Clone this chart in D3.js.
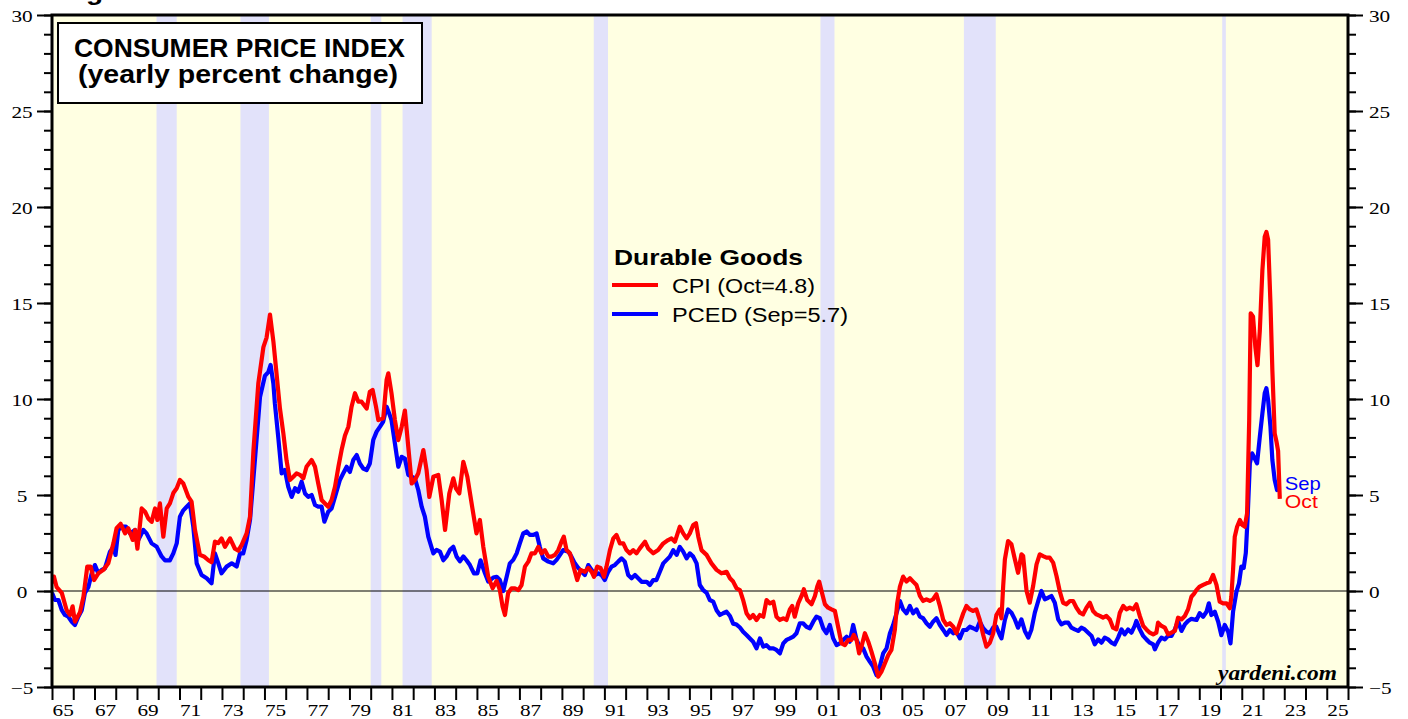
<!DOCTYPE html>
<html>
<head>
<meta charset="utf-8">
<script src="https://cdn.jsdelivr.net/npm/d3@7"></script>
<style>
  body { margin: 0; background: #fff; }
  svg { display: block; }
</style>
</head>
<body>
<svg id="chart"></svg>
<script>
// CPI durable goods, yearly % change (decimal year, value)
const cpiSeries = [
  [1965.00,0.4],[1965.09,0.75],[1965.22,0.2],[1965.46,-0.1],[1965.69,-1.0],[1965.85,-1.25],[1965.97,-0.8],
  [1966.08,-1.6],[1966.32,-1.1],[1966.48,-0.3],[1966.66,1.27],[1966.82,1.27],[1966.98,0.57],[1967.18,0.92],
  [1967.42,1.1],[1967.65,1.44],[1967.89,2.48],[1968.04,3.27],[1968.23,3.5],[1968.44,3.0],[1968.59,3.27],
  [1968.80,2.66],[1968.91,3.18],[1969.02,2.2],[1969.22,4.3],[1969.38,4.13],[1969.53,3.78],[1969.69,3.6],
  [1969.85,4.3],[1969.96,3.7],[1970.08,4.56],[1970.24,2.83],[1970.40,4.3],[1970.55,4.56],[1970.71,5.1],
  [1970.87,5.35],[1971.02,5.78],[1971.18,5.6],[1971.42,4.9],[1971.57,4.65],[1971.73,3.18],[1971.96,1.88],
  [1972.15,1.8],[1972.36,1.6],[1972.51,1.5],[1972.67,2.57],[1972.83,2.5],[1972.98,2.74],[1973.14,2.3],
  [1973.38,2.74],[1973.61,2.2],[1973.77,2.1],[1973.93,2.4],[1974.16,3.0],[1974.32,3.87],[1974.48,7.3],
  [1974.71,10.8],[1974.95,12.7],[1975.10,13.2],[1975.26,14.4],[1975.42,13.0],[1975.57,11.3],[1975.73,9.5],
  [1975.89,8.2],[1976.04,6.8],[1976.20,5.78],[1976.36,5.95],[1976.51,6.13],[1976.67,6.05],[1976.83,5.87],
  [1976.98,6.47],[1977.22,6.82],[1977.38,6.47],[1977.53,5.6],[1977.69,4.74],[1977.85,4.56],[1978.00,4.39],
  [1978.16,4.74],[1978.32,5.43],[1978.48,6.47],[1978.63,7.34],[1978.79,8.1],[1978.95,8.56],[1979.10,9.6],
  [1979.26,10.3],[1979.42,9.86],[1979.57,9.86],[1979.81,9.5],[1979.96,10.38],[1980.09,10.47],[1980.25,9.6],
  [1980.36,8.9],[1980.59,8.99],[1980.75,11.0],[1980.83,11.34],[1980.98,10.3],[1981.14,8.9],[1981.30,7.86],
  [1981.46,8.56],[1981.61,9.4],[1981.77,7.5],[1981.93,5.6],[1982.08,5.78],[1982.24,6.13],[1982.48,7.34],
  [1982.63,6.3],[1982.76,4.9],[1982.95,5.95],[1983.18,6.05],[1983.34,4.74],[1983.50,3.18],[1983.70,5.08],
  [1983.89,5.87],[1984.01,5.35],[1984.17,5.08],[1984.36,6.73],[1984.55,5.95],[1984.75,4.56],[1984.98,3.0],
  [1985.14,3.7],[1985.30,2.3],[1985.53,0.75],[1985.74,0.14],[1985.93,0.53],[1986.08,0.05],[1986.21,-0.82],
  [1986.32,-1.25],[1986.47,-0.1],[1986.63,0.14],[1986.79,0.14],[1986.95,0.05],[1987.10,0.31],[1987.26,1.27],
  [1987.42,1.53],[1987.57,1.96],[1987.73,1.96],[1987.89,2.3],[1988.04,1.96],[1988.20,2.13],[1988.36,1.79],
  [1988.51,1.79],[1988.67,1.88],[1988.83,2.13],[1988.98,2.57],[1989.09,2.83],[1989.22,2.13],[1989.38,1.96],
  [1989.53,1.35],[1989.72,0.57],[1989.88,1.1],[1990.08,1.0],[1990.24,1.2],[1990.40,1.0],[1990.51,0.74],
  [1990.66,1.27],[1990.82,1.2],[1990.98,0.74],[1991.10,1.27],[1991.26,2.13],[1991.42,2.74],[1991.57,2.92],
  [1991.73,2.48],[1991.89,2.48],[1992.04,2.13],[1992.20,1.96],[1992.36,2.13],[1992.51,1.96],[1992.67,2.22],
  [1992.91,2.57],[1993.06,2.22],[1993.30,1.96],[1993.53,2.13],[1993.77,2.48],[1994.00,2.65],[1994.16,2.74],
  [1994.32,2.57],[1994.55,3.35],[1994.71,3.0],[1994.87,2.74],[1995.02,3.0],[1995.18,3.44],[1995.31,3.53],
  [1995.42,2.83],[1995.57,2.13],[1995.81,1.88],[1996.04,1.44],[1996.28,1.1],[1996.51,0.92],[1996.75,1.0],
  [1996.91,0.66],[1997.06,0.49],[1997.22,0.14],[1997.38,0.05],[1997.53,-0.47],[1997.69,-1.16],[1997.85,-1.42],
  [1998.00,-1.25],[1998.16,-1.51],[1998.32,-1.25],[1998.48,-1.34],[1998.63,-0.47],[1998.79,-0.65],[1998.95,-0.56],
  [1999.10,-1.34],[1999.26,-1.51],[1999.42,-1.42],[1999.57,-1.51],[1999.73,-0.96],[1999.84,-0.78],[1999.96,-1.34],
  [2000.12,-0.65],[2000.28,-0.26],[2000.39,0.09],[2000.55,-0.47],[2000.75,-0.69],[2000.91,-0.26],[2001.02,0.23],
  [2001.11,0.49],[2001.22,0.0],[2001.38,-0.69],[2001.53,-0.87],[2001.69,-0.96],[2001.85,-1.04],[2002.00,-1.86],
  [2002.16,-2.73],[2002.32,-2.82],[2002.48,-2.55],[2002.63,-2.55],[2002.74,-2.29],[2002.87,-2.55],[2002.99,-3.25],
  [2003.10,-2.9],[2003.26,-2.2],[2003.42,-2.64],[2003.57,-3.16],[2003.73,-3.77],[2003.89,-4.46],[2004.04,-4.2],
  [2004.20,-3.77],[2004.36,-3.34],[2004.51,-3.07],[2004.67,-2.03],[2004.78,-0.65],[2004.91,0.23],[2005.06,0.75],
  [2005.22,0.49],[2005.38,0.66],[2005.53,0.49],[2005.69,0.31],[2005.85,-0.26],[2006.00,-0.52],[2006.16,-0.43],
  [2006.32,-0.52],[2006.47,-0.43],[2006.63,-0.17],[2006.79,-0.78],[2006.95,-1.51],[2007.10,-1.77],[2007.26,-1.68],
  [2007.42,-1.86],[2007.57,-2.2],[2007.73,-1.68],[2007.89,-1.16],[2008.04,-0.78],[2008.20,-0.96],[2008.36,-1.04],
  [2008.51,-0.96],[2008.67,-1.51],[2008.83,-2.29],[2008.98,-2.9],[2009.14,-2.7],[2009.30,-2.2],[2009.45,-1.25],
  [2009.61,-0.96],[2009.69,-1.42],[2009.77,0.26],[2009.85,1.65],[2010.00,2.6],[2010.16,2.43],[2010.32,1.65],
  [2010.47,0.95],[2010.63,1.91],[2010.71,1.82],[2010.87,0.0],[2011.02,-0.61],[2011.18,0.26],[2011.34,1.39],
  [2011.49,1.91],[2011.65,1.82],[2011.81,1.74],[2011.96,1.74],[2012.12,1.48],[2012.28,0.78],[2012.43,0.0],
  [2012.59,-0.61],[2012.75,-0.69],[2012.91,-0.52],[2013.06,-0.52],[2013.22,-0.87],[2013.38,-1.13],[2013.53,-1.22],
  [2013.69,-0.87],[2013.85,-0.61],[2014.00,-1.04],[2014.16,-1.22],[2014.32,-1.3],[2014.47,-1.39],[2014.63,-1.3],
  [2014.79,-1.48],[2014.94,-1.91],[2015.10,-2.0],[2015.26,-1.13],[2015.42,-0.78],[2015.57,-0.96],[2015.73,-0.87],
  [2015.89,-0.96],[2016.04,-0.69],[2016.20,-1.3],[2016.36,-1.82],[2016.51,-2.0],[2016.67,-2.17],[2016.83,-2.26],
  [2016.98,-2.17],[2017.06,-1.65],[2017.22,-1.82],[2017.38,-1.91],[2017.53,-2.26],[2017.69,-2.17],[2017.85,-2.08],
  [2018.00,-1.39],[2018.16,-1.48],[2018.32,-1.3],[2018.47,-0.96],[2018.63,-0.3],[2018.75,-0.15],[2018.87,0.06],
  [2019.02,0.23],[2019.18,0.32],[2019.34,0.4],[2019.49,0.45],[2019.65,0.84],[2019.81,0.32],[2019.96,-0.55],
  [2020.12,-0.64],[2020.28,-0.64],[2020.44,-0.9],[2020.51,-0.29],[2020.59,1.1],[2020.67,2.83],[2020.78,3.35],
  [2020.91,3.7],[2021.03,3.44],[2021.14,3.35],[2021.25,4.04],[2021.35,8.9],[2021.42,14.46],[2021.53,14.3],
  [2021.64,12.7],[2021.74,11.76],[2021.85,13.58],[2021.97,16.7],[2022.08,18.45],[2022.16,18.7],[2022.24,18.3],
  [2022.35,15.0],[2022.44,11.5],[2022.55,8.2],[2022.63,7.8],[2022.71,7.3],[2022.79,4.8]
];

// PCE deflator durable goods, yearly % change
const pcedSeries = [
  [1965.00,-0.1],[1965.14,-0.47],[1965.30,-0.47],[1965.46,-1.0],[1965.61,-1.25],[1965.77,-1.34],[1965.93,-1.6],
  [1966.08,-1.77],[1966.24,-1.34],[1966.40,-1.0],[1966.55,-0.1],[1966.71,0.2],[1966.87,0.92],[1967.02,1.35],
  [1967.18,0.92],[1967.34,1.1],[1967.49,1.18],[1967.73,2.05],[1967.89,2.3],[1967.99,1.88],[1968.12,3.18],
  [1968.28,3.35],[1968.48,3.35],[1968.67,3.0],[1968.91,3.18],[1969.06,2.66],[1969.30,3.18],[1969.45,3.0],
  [1969.69,2.48],[1969.93,2.3],[1970.16,1.8],[1970.32,1.6],[1970.55,1.6],[1970.71,1.96],[1970.87,2.48],
  [1971.02,3.87],[1971.18,4.2],[1971.34,4.39],[1971.49,4.56],[1971.65,3.35],[1971.81,1.44],[1972.04,0.83],
  [1972.28,0.66],[1972.51,0.4],[1972.67,1.96],[1972.83,1.44],[1972.98,0.92],[1973.22,1.27],[1973.46,1.44],
  [1973.69,1.27],[1973.85,1.96],[1974.00,1.96],[1974.16,2.66],[1974.32,3.7],[1974.55,6.8],[1974.79,10.1],
  [1975.02,11.2],[1975.18,11.4],[1975.29,11.77],[1975.42,10.8],[1975.49,9.77],[1975.65,8.0],[1975.81,6.13],
  [1975.96,6.3],[1976.12,5.43],[1976.28,4.9],[1976.44,5.35],[1976.59,5.17],[1976.75,5.69],[1976.91,5.08],
  [1977.06,4.9],[1977.22,5.0],[1977.38,4.48],[1977.53,4.39],[1977.69,4.39],[1977.82,3.61],[1978.00,4.13],
  [1978.16,4.3],[1978.32,4.9],[1978.55,5.78],[1978.71,6.13],[1978.87,6.47],[1979.02,6.2],[1979.18,6.82],
  [1979.34,7.08],[1979.49,6.64],[1979.65,6.38],[1979.81,6.3],[1979.96,6.64],[1980.12,7.86],[1980.28,8.3],
  [1980.44,8.56],[1980.59,8.82],[1980.75,9.6],[1980.87,9.25],[1980.98,8.9],[1981.14,7.69],[1981.30,6.47],
  [1981.46,6.99],[1981.61,6.9],[1981.77,6.05],[1981.93,5.95],[1982.08,5.87],[1982.24,5.26],[1982.40,4.39],
  [1982.55,3.87],[1982.71,2.83],[1982.95,1.96],[1983.10,2.14],[1983.26,2.05],[1983.42,1.6],[1983.57,1.8],
  [1983.73,2.14],[1983.89,2.3],[1984.04,1.8],[1984.20,1.55],[1984.36,1.8],[1984.51,1.6],[1984.67,1.35],
  [1984.86,0.92],[1985.02,0.92],[1985.17,1.6],[1985.38,0.92],[1985.53,0.49],[1985.77,0.7],[1985.93,0.74],
  [1986.08,0.57],[1986.24,0.0],[1986.40,0.74],[1986.55,1.44],[1986.71,1.62],[1986.87,1.96],[1987.02,2.48],
  [1987.18,3.0],[1987.34,3.1],[1987.49,2.92],[1987.65,2.92],[1987.81,3.0],[1987.96,2.3],[1988.12,1.7],
  [1988.36,1.53],[1988.59,1.44],[1988.75,1.62],[1988.91,1.88],[1989.06,2.13],[1989.30,2.05],[1989.45,1.79],
  [1989.61,1.44],[1989.77,1.2],[1989.93,1.0],[1990.08,0.83],[1990.24,1.35],[1990.40,1.1],[1990.55,0.83],
  [1990.71,0.92],[1990.87,0.83],[1991.02,0.57],[1991.18,1.0],[1991.34,1.27],[1991.49,1.35],[1991.65,1.53],
  [1991.81,1.7],[1991.96,1.53],[1992.12,0.83],[1992.28,0.66],[1992.44,0.83],[1992.59,0.66],[1992.75,0.48],
  [1992.99,0.48],[1993.14,0.31],[1993.30,0.57],[1993.45,0.57],[1993.61,1.0],[1993.77,1.44],[1993.93,1.62],
  [1994.08,1.79],[1994.24,2.13],[1994.40,1.88],[1994.55,2.3],[1994.71,2.05],[1994.87,1.7],[1995.02,1.96],
  [1995.18,1.79],[1995.34,1.44],[1995.49,0.31],[1995.65,0.05],[1995.81,-0.09],[1995.96,-0.47],[1996.12,-0.55],
  [1996.28,-1.0],[1996.44,-1.25],[1996.59,-1.16],[1996.75,-1.08],[1996.91,-1.3],[1997.06,-1.7],[1997.22,-1.75],
  [1997.38,-1.9],[1997.53,-2.12],[1997.69,-2.29],[1997.85,-2.47],[1998.00,-2.64],[1998.16,-2.99],[1998.32,-2.47],
  [1998.48,-2.9],[1998.63,-2.82],[1998.79,-2.99],[1998.95,-2.99],[1999.10,-3.07],[1999.26,-3.25],[1999.42,-2.73],
  [1999.57,-2.55],[1999.73,-2.47],[1999.89,-2.38],[2000.04,-2.2],[2000.20,-1.68],[2000.35,-1.68],[2000.51,-1.86],
  [2000.67,-1.94],[2000.83,-1.6],[2000.98,-1.34],[2001.14,-1.42],[2001.30,-1.94],[2001.45,-2.2],[2001.61,-1.77],
  [2001.77,-2.47],[2001.93,-2.82],[2002.08,-2.73],[2002.24,-2.55],[2002.40,-2.38],[2002.55,-2.64],[2002.71,-1.77],
  [2002.87,-2.55],[2003.02,-2.9],[2003.18,-2.99],[2003.34,-3.42],[2003.49,-3.68],[2003.65,-3.94],[2003.81,-4.38],
  [2003.96,-3.94],[2004.12,-3.25],[2004.28,-2.99],[2004.44,-2.2],[2004.59,-1.77],[2004.75,-1.16],[2004.91,-0.52],
  [2005.06,-0.96],[2005.22,-1.16],[2005.38,-0.78],[2005.53,-1.16],[2005.69,-0.96],[2005.85,-1.34],[2006.00,-1.42],
  [2006.16,-1.68],[2006.32,-1.86],[2006.47,-1.6],[2006.63,-1.42],[2006.79,-1.77],[2006.95,-2.03],[2007.10,-2.29],
  [2007.26,-2.03],[2007.42,-2.2],[2007.57,-2.12],[2007.73,-2.47],[2007.89,-2.03],[2008.04,-2.03],[2008.20,-1.86],
  [2008.36,-1.94],[2008.51,-2.03],[2008.67,-1.6],[2008.83,-1.94],[2008.98,-2.12],[2009.14,-2.2],[2009.30,-1.9],
  [2009.45,-1.86],[2009.61,-2.29],[2009.69,-2.47],[2009.85,-1.51],[2010.00,-0.96],[2010.16,-1.13],[2010.32,-1.48],
  [2010.47,-1.91],[2010.63,-1.48],[2010.79,-2.08],[2010.95,-2.43],[2011.10,-2.0],[2011.26,-1.13],[2011.42,-0.52],
  [2011.57,0.0],[2011.73,-0.43],[2011.89,-0.35],[2012.04,-0.26],[2012.20,-0.61],[2012.36,-1.48],[2012.51,-1.74],
  [2012.67,-1.65],[2012.83,-1.65],[2012.98,-1.91],[2013.14,-2.0],[2013.30,-2.08],[2013.45,-1.91],[2013.61,-2.0],
  [2013.77,-2.17],[2013.93,-2.34],[2014.08,-2.78],[2014.24,-2.52],[2014.40,-2.69],[2014.55,-2.43],[2014.71,-2.52],
  [2014.87,-2.69],[2015.02,-2.78],[2015.18,-2.43],[2015.34,-2.0],[2015.49,-2.26],[2015.65,-2.0],[2015.81,-2.17],
  [2015.96,-1.82],[2016.04,-1.56],[2016.20,-2.0],[2016.36,-2.34],[2016.51,-2.52],[2016.67,-2.69],[2016.83,-2.78],
  [2016.91,-3.04],[2017.06,-2.69],[2017.22,-2.43],[2017.38,-2.52],[2017.53,-2.34],[2017.69,-2.34],[2017.85,-2.0],
  [2018.00,-1.56],[2018.16,-2.08],[2018.32,-1.74],[2018.47,-1.56],[2018.63,-1.45],[2018.87,-1.51],[2019.02,-1.16],
  [2019.18,-1.34],[2019.34,-1.08],[2019.45,-0.64],[2019.57,-1.25],[2019.73,-1.08],[2019.89,-1.6],[2020.04,-2.3],
  [2020.20,-1.77],[2020.36,-2.12],[2020.47,-2.73],[2020.59,-1.08],[2020.75,-0.03],[2020.87,0.4],[2020.98,1.27],
  [2021.09,1.2],[2021.19,1.98],[2021.27,3.7],[2021.38,6.65],[2021.49,7.17],[2021.61,6.9],[2021.72,6.65],
  [2021.85,8.04],[2021.97,9.25],[2022.08,10.3],[2022.16,10.56],[2022.24,9.95],[2022.35,8.56],[2022.44,6.82],
  [2022.55,5.78],[2022.66,5.26],[2022.71,5.4]
];

// recessions (start, end as decimal years)
const recessions = [
  [1969.92, 1970.87], [1973.87, 1975.21], [1980.0, 1980.5], [1981.5, 1982.87],
  [1990.5, 1991.17], [2001.17, 2001.83], [2007.92, 2009.42], [2020.08, 2020.25]
];

const yMajorTicks = [-5, 0, 5, 10, 15, 20, 25, 30];
const yMinorTicks = d3.range(-5, 31, 1);
const yearTicks = d3.range(1965, 2027, 1);
const yearLabels = d3.range(1965, 2026, 2);

const legendItems = [
  { label: "CPI (Oct=4.8)", color: "#ff0000", len: 143 },
  { label: "PCED (Sep=5.7)", color: "#0000ff", len: 176 }
];

// layout
const W = 1408, H = 719;
const pL = 52, pR = 1348, pT = 15, pB = 687;
const stretch = 1.25;
const sans = "Liberation Sans, Arial, sans-serif";
const serif = "Liberation Serif, Times New Roman, serif";

const svg = d3.select("#chart").attr("width", W).attr("height", H);

const x = d3.scaleLinear().domain([1965, 2026]).range([pL, pR]);
const y = d3.scaleLinear().domain([-5, 30]).range([pB, pT]);

// partial figure caption at the top
svg.append("text")
  .attr("x", 61).attr("y", 0)
  .attr("font-family", sans)
  .attr("font-weight", "bold").attr("font-size", 24)
  .attr("textLength", 117).attr("lengthAdjust", "spacingAndGlyphs")
  .text("Figure 3.");

// background + recession bands
svg.append("rect")
  .attr("x", pL).attr("y", pT)
  .attr("width", pR - pL).attr("height", pB - pT)
  .attr("fill", "#ffffe2");

svg.append("g").selectAll("rect")
  .data(recessions)
  .join("rect")
  .attr("x", d => x(d[0]))
  .attr("y", pT)
  .attr("width", d => x(d[1]) - x(d[0]))
  .attr("height", pB - pT)
  .attr("fill", "#e2e2fa");

// zero line
svg.append("line")
  .attr("x1", pL).attr("x2", pR)
  .attr("y1", y(0)).attr("y2", y(0))
  .attr("stroke", "#000").attr("stroke-width", 1.2);

// lines
svg.append("clipPath").attr("id", "plotclip")
  .append("rect")
  .attr("x", pL).attr("y", pT)
  .attr("width", pR - pL).attr("height", pB - pT);

const line = d3.line()
  .x(d => x(d[0]))
  .y(d => y(d[1]));

const plot = svg.append("g").attr("clip-path", "url(#plotclip)");

plot.append("path")
  .datum(pcedSeries)
  .attr("fill", "none")
  .attr("stroke", "#0000ff")
  .attr("stroke-width", 4.2)
  .attr("stroke-linejoin", "round")
  .attr("d", line);

plot.append("path")
  .datum(cpiSeries)
  .attr("fill", "none")
  .attr("stroke", "#ff0000")
  .attr("stroke-width", 4.2)
  .attr("stroke-linejoin", "round")
  .attr("d", line);

// end labels
const lastCpi = cpiSeries[cpiSeries.length - 1];
svg.append("text")
  .attr("x", x(lastCpi[0]) + 5).attr("y", 490)
  .attr("font-family", sans)
  .attr("font-size", 19).attr("fill", "#0000ff")
  .attr("textLength", 36).attr("lengthAdjust", "spacingAndGlyphs")
  .text("Sep");
svg.append("text")
  .attr("x", x(lastCpi[0]) + 5).attr("y", 508)
  .attr("font-family", sans)
  .attr("font-size", 19).attr("fill", "#ff0000")
  .attr("textLength", 33).attr("lengthAdjust", "spacingAndGlyphs")
  .text("Oct");

// axes
function styleAxis(g) {
  g.select(".domain").remove();
  g.selectAll(".tick line").attr("stroke-width", 2);
  g.selectAll("text").attr("font-family", serif).attr("font-size", 17).attr("fill", "#000");
}

svg.append("g")
  .attr("transform", `translate(${pL},0)`)
  .call(d3.axisLeft(y).tickValues(yMinorTicks).tickSize(8).tickFormat(""))
  .call(styleAxis);

svg.append("g")
  .attr("transform", `translate(${pL},0)`)
  .call(d3.axisLeft(y).tickValues(yMajorTicks).tickSize(15))
  .call(styleAxis)
  .call(g => g.selectAll("text")
    .attr("text-anchor", "middle")
    .attr("x", -30 / stretch)
    .attr("dy", "0.4em")
    .attr("transform", `scale(${stretch},1)`));

svg.append("g")
  .attr("transform", `translate(${pR},0)`)
  .call(d3.axisRight(y).tickValues(yMinorTicks).tickSize(8).tickFormat(""))
  .call(styleAxis);

svg.append("g")
  .attr("transform", `translate(${pR},0)`)
  .call(d3.axisRight(y).tickValues(yMajorTicks).tickSize(15))
  .call(styleAxis)
  .call(g => g.selectAll("text")
    .attr("x", 21 / stretch)
    .attr("dy", "0.4em")
    .attr("transform", `scale(${stretch},1)`));

svg.append("g")
  .attr("transform", `translate(0,${pB})`)
  .call(d3.axisBottom(x).tickValues(yearTicks).tickSize(13).tickFormat(""))
  .call(styleAxis);

svg.append("g")
  .attr("transform", `translate(0,${pB})`)
  .call(d3.axisBottom(x)
    .tickValues(yearLabels.map(d => d + 0.5))
    .tickSize(0)
    .tickFormat(d => String(Math.floor(d) % 100).padStart(2, "0")))
  .call(styleAxis)
  .call(g => g.selectAll(".tick line").remove())
  .call(g => g.selectAll("text")
    .attr("y", 29).attr("dy", 0)
    .attr("transform", `scale(${stretch},1)`));

// frame
svg.append("rect")
  .attr("x", pL).attr("y", pT)
  .attr("width", pR - pL).attr("height", pB - pT)
  .attr("fill", "none")
  .attr("stroke", "#000")
  .attr("stroke-width", 3);

// title box
svg.append("rect")
  .attr("x", 58).attr("y", 23)
  .attr("width", 364).attr("height", 80)
  .attr("fill", "#fff")
  .attr("stroke", "#000").attr("stroke-width", 2);

svg.append("text")
  .attr("x", 74).attr("y", 57)
  .attr("font-family", sans).attr("font-weight", "bold").attr("font-size", 25)
  .attr("textLength", 331).attr("lengthAdjust", "spacingAndGlyphs")
  .text("CONSUMER PRICE INDEX");
svg.append("text")
  .attr("x", 78).attr("y", 83)
  .attr("font-family", sans).attr("font-weight", "bold").attr("font-size", 25)
  .attr("textLength", 320).attr("lengthAdjust", "spacingAndGlyphs")
  .text("(yearly percent change)");

// legend
svg.append("text")
  .attr("x", 614).attr("y", 265)
  .attr("font-family", sans).attr("font-weight", "bold").attr("font-size", 22)
  .attr("textLength", 189).attr("lengthAdjust", "spacingAndGlyphs")
  .text("Durable Goods");

const legend = svg.append("g").selectAll("g")
  .data(legendItems)
  .join("g")
  .attr("transform", (d, i) => `translate(612,${285 + i * 29})`);

legend.append("line")
  .attr("x1", 0).attr("x2", 46)
  .attr("stroke", d => d.color)
  .attr("stroke-width", 4);

legend.append("text")
  .attr("x", 60).attr("y", 8)
  .attr("font-family", sans).attr("font-size", 20)
  .attr("textLength", d => d.len).attr("lengthAdjust", "spacingAndGlyphs")
  .text(d => d.label);

// source
svg.append("text")
  .attr("x", 1218).attr("y", 680)
  .attr("font-family", serif).attr("font-weight", "bold").attr("font-style", "italic")
  .attr("font-size", 20)
  .attr("textLength", 119).attr("lengthAdjust", "spacingAndGlyphs")
  .text("yardeni.com");
</script>
</body>
</html>
